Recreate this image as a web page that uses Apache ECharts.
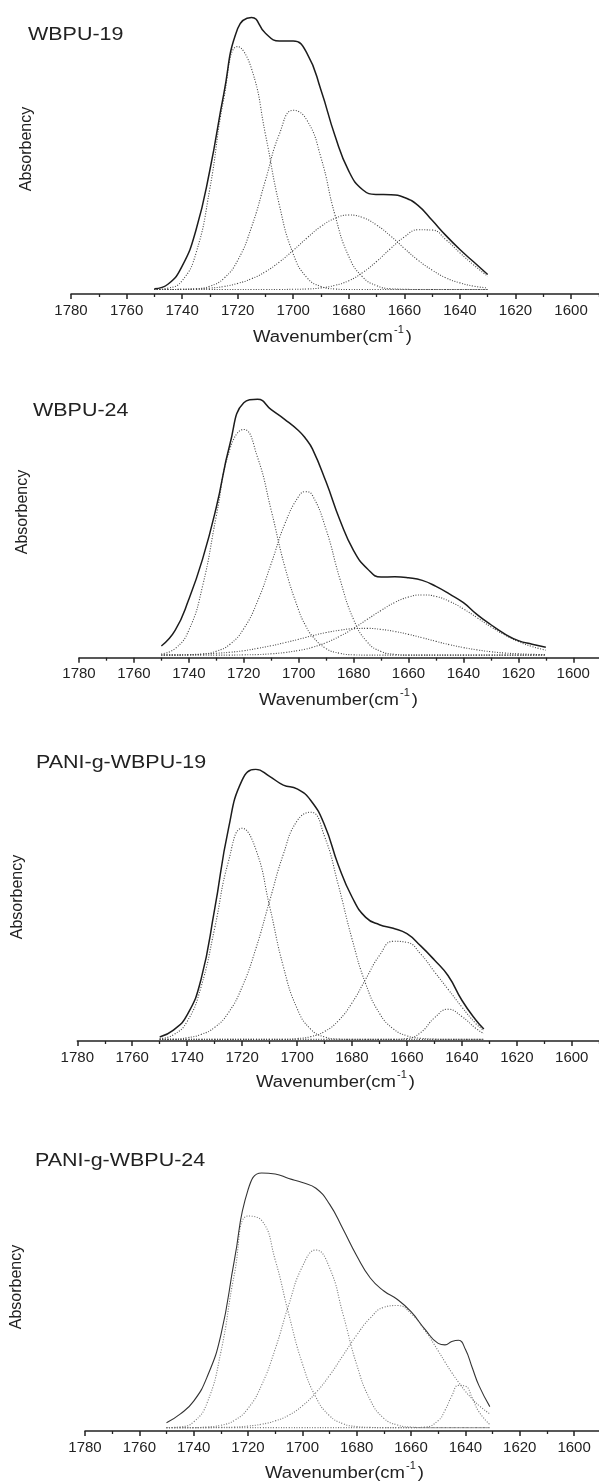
<!DOCTYPE html>
<html>
<head>
<meta charset="utf-8">
<script src="https://cdn.jsdelivr.net/npm/echarts@6/dist/echarts.min.js"></script>
<style>
  html, body { margin: 0; padding: 0; background: #fff; }
  #chart { width: 599px; height: 1483px; }
</style>
</head>
<body>
<div id="chart"></div>
<script>
// wavenumber tick labels on every panel
const tickLabels = [1780, 1760, 1740, 1720, 1700, 1680, 1660, 1640, 1620, 1600]

// ---- WBPU-19 ----
const wn19 = [1750, 1745, 1740, 1735, 1730, 1725, 1720, 1715, 1710, 1705, 1700, 1695, 1690, 1685, 1680, 1675, 1670, 1665, 1660, 1655, 1650, 1645, 1640, 1635, 1630]
const total19 = [1.9, 3.6, 10, 23, 44.6, 72, 95.5, 99.5, 93.8, 91, 91, 86.5, 73.3, 57, 44.2, 37.5, 35.8, 35.7, 34.7, 31.8, 26.5, 21, 16, 11.5, 7]
const band19a = [1.6, 2.1, 4.8, 14.7, 38.0, 70.2, 89.0, 81.0, 57.4, 32.0, 14.4, 5.8, 2.7, 1.8, 1.6, 1.6, 1.6, 1.6, 1.6, 1.6, 1.6, 1.6, 1.6, 1.6, 1.6]
const band19b = [1.6, 1.6, 1.7, 1.9, 2.8, 5.6, 12.1, 24.1, 40.9, 57.5, 66.1, 62.4, 49, 28.5, 13.5, 6.1, 3.0, 1.9, 1.7, 1.6, 1.6, 1.6, 1.6, 1.6, 1.6]
const band19c = [1.6, 1.6, 1.7, 1.8, 2.1, 2.7, 3.8, 5.5, 8.0, 11.5, 15.7, 20.2, 24.3, 27.2, 28.4, 27.5, 24.8, 20.9, 16.4, 12.1, 8.6, 5.8, 4.0, 2.8, 2.2]
const band19d = [1.6, 1.6, 1.6, 1.6, 1.6, 1.6, 1.6, 1.6, 1.6, 1.6, 1.7, 1.8, 2.2, 3.1, 4.8, 7.7, 11.7, 16.3, 20.5, 23.1, 23.0, 19.5, 14.8, 10.4, 6.4]

// ---- WBPU-24 ----
const wn24 = [1750, 1745, 1740, 1735, 1730, 1725, 1720, 1715, 1710, 1705, 1700, 1697.5, 1695, 1690, 1685, 1680, 1675, 1670, 1665, 1660, 1655, 1650, 1645, 1640, 1635, 1630, 1625, 1620, 1615, 1610]
const total24 = [4.5, 10.5, 22.5, 38, 58, 82.5, 98.3, 99.6, 95.6, 91.8, 87.5, 84.5, 80.5, 67.7, 53.1, 41.3, 34.3, 31.1, 31.2, 30.8, 29.8, 27.5, 24.5, 21.2, 16.6, 12.7, 9.2, 6.6, 5.2, 4.0]
const band24a = [1.5, 3.5, 10.6, 27.6, 54.6, 80.6, 88.0, 77.3, 56.8, 34.9, 18.3, 12.4, 8.3, 3.5, 1.7, 1.1, 1.0, 1.0, 1.0, 1.0, 1.0, 1.0, 1.0, 1.0, 1.0, 1.0, 1.0, 1.0, 1.0, 1.0]
const band24b = [1.0, 1.0, 1.1, 1.4, 2.5, 5.2, 11.2, 21.7, 36.3, 51.7, 62.2, 64.0, 62.6, 49.4, 30.4, 14.7, 6.0, 2.4, 1.3, 1.0, 1.0, 1.0, 1.0, 1.0, 1.0, 1.0, 1.0, 1.0, 1.0, 1.0]
const band24c = [1.0, 1.0, 1.0, 1.0, 1.0, 1.0, 1.1, 1.2, 1.5, 2.0, 2.8, 3.3, 4.0, 5.8, 8.3, 11.3, 14.8, 18.2, 21.3, 23.4, 24.2, 23.6, 21.7, 18.8, 15.4, 11.9, 8.8, 6.2, 4.3, 2.9]
const band24d = [1.1, 1.1, 1.2, 1.4, 1.7, 2.1, 2.7, 3.6, 4.6, 5.8, 7.1, 7.8, 8.5, 9.7, 10.6, 11.2, 11.3, 10.9, 10.1, 9.0, 7.7, 6.3, 5.0, 3.9, 3.0, 2.3, 1.8, 1.5, 1.3, 1.2]

// ---- PANI-g-WBPU-19 ----
const wnP19 = [1750, 1745, 1740, 1735, 1730, 1725, 1720, 1715, 1710, 1705, 1700, 1695, 1690, 1685, 1680, 1675, 1670, 1665, 1660, 1655, 1650, 1645, 1640, 1635, 1632]
const totalP19 = [1.5, 4.0, 9.6, 22.5, 48.5, 78, 96, 100, 97.4, 94.2, 92.8, 88.5, 79.5, 64.8, 53, 45.5, 42.8, 41.5, 39.5, 35, 29.8, 24, 15, 7.8, 4.4]
const bandP19a = [0.9, 2.3, 7.2, 19.7, 41.5, 66.0, 78.3, 70.5, 49.6, 27.4, 12.0, 4.3, 1.5, 0.7, 0.6, 0.6, 0.6, 0.6, 0.6, 0.6, 0.6, 0.6, 0.6, 0.6, 0.6]
const bandP19b = [0.6, 0.6, 1.2, 2.4, 5.0, 10.4, 19.9, 34.0, 51.5, 68.7, 81.0, 84.2, 75.3, 57.5, 37.6, 21.0, 10.2, 4.5, 1.9, 1.0, 0.7, 0.6, 0.6, 0.6, 0.6]
const bandP19c = [0.6, 0.6, 0.6, 0.6, 0.6, 0.6, 0.6, 0.6, 0.6, 0.6, 0.9, 1.6, 3.5, 7.4, 14.0, 22.8, 31.5, 36.7, 36.3, 32, 25.5, 19, 12.5, 6.5, 3.8]
const bandP19d = [0.6, 0.6, 0.6, 0.6, 0.6, 0.6, 0.6, 0.6, 0.6, 0.6, 0.6, 0.6, 0.6, 0.6, 0.6, 0.6, 0.6, 0.6, 0.9, 3.1, 8.5, 11.7, 9.0, 4.7, 2.7]

// ---- PANI-g-WBPU-24 ----
const wnP24 = [1750, 1745, 1740, 1735, 1730, 1725, 1720, 1715, 1710, 1705, 1700, 1695, 1690, 1685, 1680, 1675, 1670, 1665, 1660, 1655, 1650, 1647.5, 1645, 1642.5, 1640, 1637.5, 1635, 1631]
const totalP24 = [3.2, 6.5, 11.5, 21, 37, 66, 93, 99.5, 99.1, 97.4, 95.8, 93.6, 87.5, 77.8, 67.6, 59, 54, 50.7, 46, 39.4, 33.8, 33.2, 34.5, 35.0, 31.5, 24.5, 17.5, 9.4]
const bandP24a = [1.3, 1.6, 3.5, 11.0, 30.4, 60.6, 82.9, 81.2, 66.0, 45.0, 26.0, 13.0, 5.9, 2.8, 1.7, 1.4, 1.3, 1.3, 1.3, 1.3, 1.3, 1.3, 1.3, 1.3, 1.3, 1.3, 1.3, 1.3]
const bandP24b = [1.3, 1.3, 1.3, 1.6, 2.2, 4.1, 8.7, 17.7, 31.6, 48.7, 63.4, 69.8, 63.0, 44.9, 25.6, 11.9, 4.9, 2.3, 1.5, 1.3, 1.3, 1.3, 1.3, 1.3, 1.3, 1.3, 1.3, 1.3]
const bandP24c = [1.3, 1.3, 1.3, 1.3, 1.4, 1.5, 1.9, 2.6, 3.9, 6.1, 9.7, 14.8, 21.4, 29.2, 37.0, 43.6, 47.7, 48.4, 45.3, 38.9, 30.9, 26.6, 22.5, 18.8, 15.3, 12.4, 9.8, 6.6]
const bandP24d = [1.3, 1.3, 1.3, 1.3, 1.3, 1.3, 1.3, 1.3, 1.3, 1.3, 1.3, 1.3, 1.3, 1.3, 1.3, 1.3, 1.3, 1.3, 1.3, 1.5, 4.0, 8.0, 13.5, 17.6, 17.3, 12.8, 7.4, 2.5]

let panels = [
  { title: 'WBPU-19', wn: wn19, total: total19, bands: [band19a, band19b, band19c, band19d],
    left: 71, top: 16, height: 278, ppu: 2.778, ylab: [27, 149], name: [253, 338], tpos: [28, 35], light: false },
  { title: 'WBPU-24', wn: wn24, total: total24, bands: [band24a, band24b, band24c, band24d],
    left: 79, top: 398.3, height: 259.4, ppu: 2.746, ylab: [23, 512], name: [259, 701], tpos: [33, 411], light: false },
  { title: 'PANI-g-WBPU-19', wn: wnP19, total: totalP19, bands: [bandP19a, bandP19b, bandP19c, bandP19d],
    left: 77.3, top: 769.3, height: 271.7, ppu: 2.747, ylab: [18, 897], name: [256, 1083], tpos: [36, 763], light: false },
  { title: 'PANI-g-WBPU-24', wn: wnP24, total: totalP24, bands: [bandP24a, bandP24b, bandP24c, bandP24d],
    left: 85, top: 1171.7, height: 259.3, ppu: 2.717, ylab: [17, 1287], name: [265, 1474], tpos: [35, 1161], light: true }
]

const font = 'Liberation Sans, Arial, sans-serif'

// measure the axis-name pieces so the superscript sits right after "cm"
let ctx = document.createElement('canvas').getContext('2d')
ctx.font = '16px ' + font
const nameW = ctx.measureText('Wavenumber(cm').width
const nameScale = 140 / nameW
ctx.font = '11px ' + font
const supW = ctx.measureText('-1').width

let grids = [], xAxes = [], yAxes = [], series = [], graphics = []

panels.forEach((p, k) => {
  grids.push({ left: p.left, top: p.top, height: p.height, width: 200 * p.ppu, outerBoundsMode: 'none', containLabel: false })
  xAxes.push({
    type: 'value', gridIndex: k, min: 1580, max: 1780, interval: 20, inverse: true,
    axisLine: { lineStyle: { color: '#222', width: 1.5 } },
    axisTick: { length: 5, lineStyle: { color: '#222', width: 1.5 } },
    minorTick: { show: true, splitNumber: 2, length: 3, lineStyle: { color: '#222', width: 1.3 } },
    splitLine: { show: false },
    axisLabel: {
      fontSize: 15, color: '#222', fontFamily: font, margin: 9,
      formatter: v => tickLabels.includes(v) ? String(v) : ''
    }
  })
  yAxes.push({ type: 'value', gridIndex: k, min: 0, max: 100, show: false })

  series.push({
    type: 'line', xAxisIndex: k, yAxisIndex: k, smooth: true, symbol: 'none', z: 3,
    lineStyle: { color: p.light ? '#333' : '#1c1c1c', width: p.light ? 1.1 : 1.5 },
    data: p.wn.map((x, i) => [x, p.total[i]])
  })
  p.bands.forEach(b => {
    series.push({
      type: 'line', xAxisIndex: k, yAxisIndex: k, smooth: true, symbol: 'none', z: 2,
      lineStyle: { color: p.light ? '#777' : '#444', width: 1.1, type: [1, 1.6] },
      data: p.wn.map((x, i) => [x, b[i]])
    })
  })

  graphics.push({
    type: 'text', x: p.tpos[0], y: p.tpos[1], scaleX: 1.13,
    style: { text: p.title, fontSize: 19, fontFamily: font, fill: '#222',
      align: 'left', verticalAlign: 'middle', textAlign: 'left', textVerticalAlign: 'middle' }
  })
  graphics.push({
    type: 'text', x: p.ylab[0], y: p.ylab[1], rotation: Math.PI / 2,
    style: { text: 'Absorbency', fontSize: 16, fontFamily: font, fill: '#222',
      align: 'center', verticalAlign: 'middle', textAlign: 'center', textVerticalAlign: 'middle' }
  })
  graphics.push({
    type: 'text', x: p.name[0], y: p.name[1], scaleX: nameScale,
    style: { text: 'Wavenumber(cm', fontSize: 16, fontFamily: font, fill: '#222',
      align: 'left', verticalAlign: 'middle', textAlign: 'left', textVerticalAlign: 'middle' }
  })
  graphics.push({
    type: 'text', x: p.name[0] + 141, y: p.name[1] - 8,
    style: { text: '-1', fontSize: 11, fontFamily: font, fill: '#222',
      align: 'left', verticalAlign: 'middle', textAlign: 'left', textVerticalAlign: 'middle' }
  })
  graphics.push({
    type: 'text', x: p.name[0] + 142 + supW + 1, y: p.name[1], scaleX: nameScale,
    style: { text: ')', fontSize: 16, fontFamily: font, fill: '#222',
      align: 'left', verticalAlign: 'middle', textAlign: 'left', textVerticalAlign: 'middle' }
  })
})

let myChart = echarts.init(document.getElementById('chart'))
myChart.setOption({
  animation: false,
  backgroundColor: '#fff',
  grid: grids,
  xAxis: xAxes,
  yAxis: yAxes,
  series: series,
  graphic: graphics
})
</script>
</body>
</html>
